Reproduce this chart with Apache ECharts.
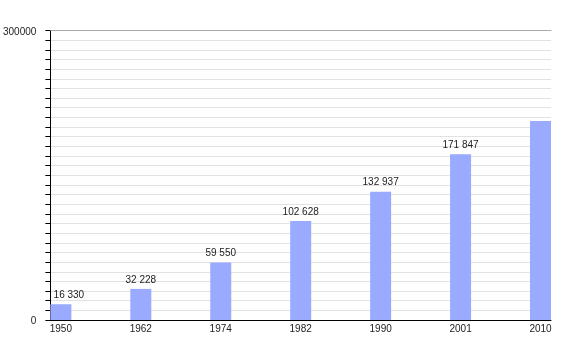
<!DOCTYPE html>
<html>
<head>
<meta charset="utf-8">
<script src="https://cdn.jsdelivr.net/npm/echarts@6/dist/echarts.min.js"></script>
<style>
  html, body { margin: 0; padding: 0; background: #fff; }
  #chart { width: 580px; height: 350px; }
</style>
</head>
<body>
<div id="chart"></div>
<script>
// census years and population
var years = ['1950', '1962', '1974', '1982', '1990', '2001', '2010'];
var population = [16330, 32228, 59550, 102628, 132937, 171847, 206300];
var showLabel = [true, true, true, true, true, true, false];
var yTickLabels = [0, 300000];

var font = 'Liberation Sans, Arial, sans-serif';
// bars sit 21/160 of a slot in from the axis ends; tick step divides both
var pad = 21 / 160;
var step = 1 / 160;

function spaced(n) {
  return String(n).replace(/\B(?=(\d{3})+(?!\d))/g, ' ');
}

var barData = population.map(function (v, i) {
  var item = { value: [i, v] };
  if (!showLabel[i]) item.label = { show: false };
  if (i === 0) item.label = { offset: [8, 0] };
  return item;
});

var chart = echarts.init(document.getElementById('chart'), null, { renderer: 'canvas' });
chart.setOption({
  animation: false,
  backgroundColor: '#fff',
  grid: { left: 50, top: 30.5, right: 29, bottom: 30 },
  xAxis: [{
    type: 'value',
    min: -pad,
    max: years.length - 1 + pad,
    interval: step,
    axisLine: { show: true, onZero: false, lineStyle: { color: '#000', width: 1 } },
    axisTick: { show: false },
    splitLine: { show: false },
    axisLabel: {
      margin: 4,
      fontSize: 10,
      fontFamily: font,
      color: '#222',
      formatter: function (v) {
        var r = Math.round(v);
        return Math.abs(v - r) < 1e-4 && years[r] ? years[r] : '';
      }
    }
  }, {
    type: 'value',
    position: 'top',
    min: -pad,
    max: years.length - 1 + pad,
    axisLine: { show: true, onZero: false, lineStyle: { color: '#aaa', width: 1 } },
    axisTick: { show: false },
    axisLabel: { show: false },
    splitLine: { show: false }
  }],
  yAxis: {
    type: 'value',
    min: 0,
    max: 300000,
    interval: 10000,
    axisLine: { show: true, onZero: false, lineStyle: { color: '#000', width: 1 } },
    axisTick: { show: true, inside: false, length: 5, lineStyle: { color: '#000' } },
    splitLine: { show: true, lineStyle: { color: '#e2e2e2', width: 1 } },
    axisLabel: {
      margin: 14,
      fontSize: 10,
      fontFamily: font,
      color: '#222',
      rich: {
        t: { fontSize: 10, fontFamily: font, color: '#222', padding: [3, 0, 0, 0] }
      },
      formatter: function (v) {
        return yTickLabels.indexOf(v) >= 0 ? '{t|' + v + '}' : '';
      }
    }
  },
  series: [{
    type: 'bar',
    xAxisIndex: 0,
    barWidth: 21,
    itemStyle: { color: '#99aaff' },
    label: {
      show: true,
      position: 'top',
      distance: 4,
      fontSize: 10,
      fontFamily: font,
      color: '#222',
      formatter: function (p) { return spaced(p.value[1]); }
    },
    data: barData
  }]
});
</script>
</body>
</html>
